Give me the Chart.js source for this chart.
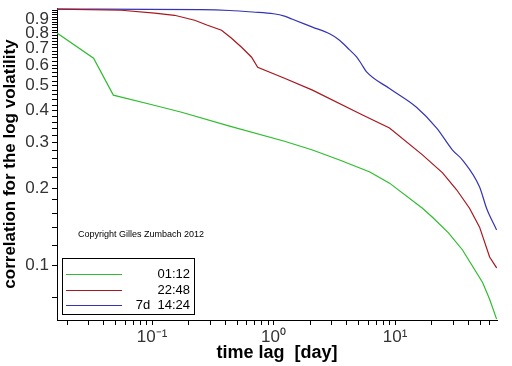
<!DOCTYPE html>
<html>
<head>
<meta charset="utf-8">
<script src="https://cdn.jsdelivr.net/npm/chart.js@4.4.1/dist/chart.umd.min.js"></script>
<style>
  html, body { margin: 0; padding: 0; background: #fff; }
  #wrap { width: 512px; height: 366px; position: relative; }
</style>
</head>
<body>
<div id="wrap"><canvas id="corrChart"></canvas></div>
<script>
// series labels
const seriesLabels = ['01:12', '22:48', '7d  14:24'];

// time lag [day] / correlation
const greenLag  = [0.0165, 0.033, 0.048, 0.1, 0.175, 0.434, 1.23, 2.09, 3.49, 6.2, 9.0, 16.8, 20.3, 27.5, 35.9, 52.5, 60, 68.5];
const greenCorr = [0.80, 0.638, 0.459, 0.421, 0.394, 0.348, 0.304, 0.281, 0.257, 0.231, 0.209, 0.167, 0.154, 0.134, 0.115, 0.086, 0.074, 0.062];

const redLag  = [0.0165, 0.056, 0.105, 0.153, 0.224, 0.286, 0.373, 0.451, 0.545, 0.659, 0.74, 1.23, 2.09, 5.4, 9.0, 16.8, 24.6, 32.1, 41, 49.6, 60, 68.5];
const redCorr = [0.99, 0.98, 0.956, 0.937, 0.896, 0.857, 0.82, 0.763, 0.704, 0.644, 0.589, 0.534, 0.48, 0.384, 0.342, 0.269, 0.229, 0.197, 0.167, 0.141, 0.108, 0.098];

const blueLag  = [0.0165, 0.25, 0.434, 0.672, 1.0, 1.23, 1.43, 2.09, 2.89, 3.49, 4.22, 4.82, 5.3, 5.83, 9.0, 15, 22, 29.7, 35.9, 49.6, 56.6, 68.5];
const blueCorr = [0.99, 0.985, 0.978, 0.965, 0.95, 0.93, 0.904, 0.843, 0.794, 0.75, 0.688, 0.646, 0.605, 0.565, 0.487, 0.412, 0.342, 0.281, 0.257, 0.202, 0.167, 0.1375];

// ticks
const xMajor = [0.1, 1, 10];
const xMajorLabels = ['10\u207B\u00B9', '10\u2070', '10\u00B9'];
const xMinor = [0.02, 0.03, 0.04, 0.05, 0.06, 0.07, 0.08, 0.09,
                0.2, 0.3, 0.4, 0.5, 0.6, 0.7, 0.8, 0.9,
                2, 3, 4, 5, 6, 7, 8, 9, 20, 30, 40, 50, 60];
const yMajor = [0.1, 0.2, 0.3, 0.4, 0.5, 0.6, 0.7, 0.8, 0.9];
const yMajorLabels = ['0.1', '0.2', '0.3', '0.4', '0.5', '0.6', '0.7', '0.8', '0.9'];
const yMinor = [0.075, 0.12, 0.14, 0.16, 0.18, 0.22, 0.24, 0.26, 0.28, 0.32, 0.34, 0.36, 0.38,
                0.42, 0.44, 0.46, 0.48, 0.52, 0.54, 0.56, 0.58, 0.62, 0.64, 0.66, 0.68,
                0.72, 0.74, 0.76, 0.78, 0.82, 0.84, 0.86, 0.88, 0.92, 0.94, 0.96, 0.98];

const copyrightText = 'Copyright Gilles Zumbach 2012';

const toPoints = (xs, ys) => xs.map((x, i) => ({ x: x, y: ys[i] }));

// legend box + copyright drawn inside the plot area
const boxLegend = {
  id: 'boxLegend',
  afterDatasetsDraw(chart) {
    const { ctx, chartArea } = chart;
    ctx.save();
    ctx.font = '9px "Liberation Sans", Arial, sans-serif';
    ctx.fillStyle = '#000';
    ctx.textBaseline = 'middle';
    ctx.textAlign = 'left';
    ctx.fillText(copyrightText, chartArea.left + 21, chartArea.top + 227);

    const bw = 132, bh = 56;
    const bx = chartArea.left + 5, by = chartArea.bottom - 6 - bh;
    ctx.fillStyle = '#fff';
    ctx.fillRect(bx, by, bw, bh);
    ctx.strokeStyle = '#000';
    ctx.lineWidth = 1;
    ctx.strokeRect(bx + 0.5, by + 0.5, bw, bh);
    chart.data.datasets.forEach((ds, i) => {
      const y = Math.round(by + 16 + i * 15.5) + 0.5;
      ctx.strokeStyle = ds.borderColor;
      ctx.beginPath();
      ctx.moveTo(bx + 4, y);
      ctx.lineTo(bx + 60, y);
      ctx.stroke();
      ctx.fillStyle = '#000';
      ctx.font = '13px "Liberation Sans", Arial, sans-serif';
      ctx.textAlign = 'right';
      ctx.fillText(ds.label, bx + bw - 4, y);
    });
    ctx.restore();
  }
};

const ctx = document.getElementById('corrChart').getContext('2d');
const corrChart = new Chart(ctx, {
  type: 'line',
  data: {
    datasets: [
      { label: seriesLabels[0], data: toPoints(greenLag, greenCorr), borderColor: '#2ebd2e' },
      { label: seriesLabels[1], data: toPoints(redLag, redCorr), borderColor: '#a8161f' },
      { label: seriesLabels[2], data: toPoints(blueLag, blueCorr), borderColor: '#3434b4',
        cubicInterpolationMode: 'monotone' }
    ]
  },
  options: {
    responsive: true,
    maintainAspectRatio: false,
    animation: false,
    parsing: false,
    elements: {
      point: { radius: 0 },
      line: { borderWidth: 1.2, tension: 0 }
    },
    layout: { padding: { left: 0, top: 8, right: 15, bottom: 0 } },
    plugins: {
      legend: { display: false },
      tooltip: { enabled: false }
    },
    scales: {
      x: {
        type: 'logarithmic',
        min: 0.0165,
        max: 69,
        border: { display: true, color: '#000', width: 1 },
        grid: { drawOnChartArea: false, drawTicks: true, tickLength: 5, tickColor: '#000' },
        ticks: {
          autoSkip: false,
          maxRotation: 0,
          padding: 2,
          color: '#333',
          font: { family: '"Liberation Sans", Arial, sans-serif', size: 17 },
          callback: (v) => {
            const k = xMajor.indexOf(v);
            return k >= 0 ? xMajorLabels[k] : '';
          }
        },
        afterBuildTicks: (scale) => {
          scale.ticks = xMajor.concat(xMinor).sort((a, b) => a - b).map(v => ({ value: v }));
        },
        afterFit: (scale) => {
          scale.height = 46;
          scale.paddingLeft = 0;
          scale.paddingRight = 0;
        },
        title: {
          display: true,
          text: 'time lag  [day]',
          color: '#000',
          padding: { top: 0, bottom: 2 },
          font: { family: '"Liberation Sans", Arial, sans-serif', size: 18, weight: 'bold' }
        }
      },
      y: {
        type: 'logarithmic',
        min: 0.0615,
        max: 1.0,
        border: { display: true, color: '#000', width: 1 },
        grid: { drawOnChartArea: false, drawTicks: true, tickLength: 5, tickColor: '#000' },
        ticks: {
          autoSkip: false,
          padding: 3,
          color: '#333',
          font: { family: '"Liberation Sans", Arial, sans-serif', size: 17 },
          callback: (v) => {
            const k = yMajor.findIndex(m => Math.abs(m - v) < 1e-9);
            return k >= 0 ? yMajorLabels[k] : '';
          }
        },
        afterBuildTicks: (scale) => {
          scale.ticks = yMajor.concat(yMinor).sort((a, b) => a - b).map(v => ({ value: v }));
        },
        afterFit: (scale) => {
          scale.width = 57;
          scale.paddingTop = 0;
          scale.paddingBottom = 0;
        },
        title: {
          display: true,
          text: 'correlation for the log volatility',
          color: '#000',
          padding: { top: 0, bottom: 0 },
          font: { family: '"Liberation Sans", Arial, sans-serif', size: 17, weight: 'bold' }
        }
      }
    }
  },
  plugins: [boxLegend]
});
</script>
</body>
</html>
